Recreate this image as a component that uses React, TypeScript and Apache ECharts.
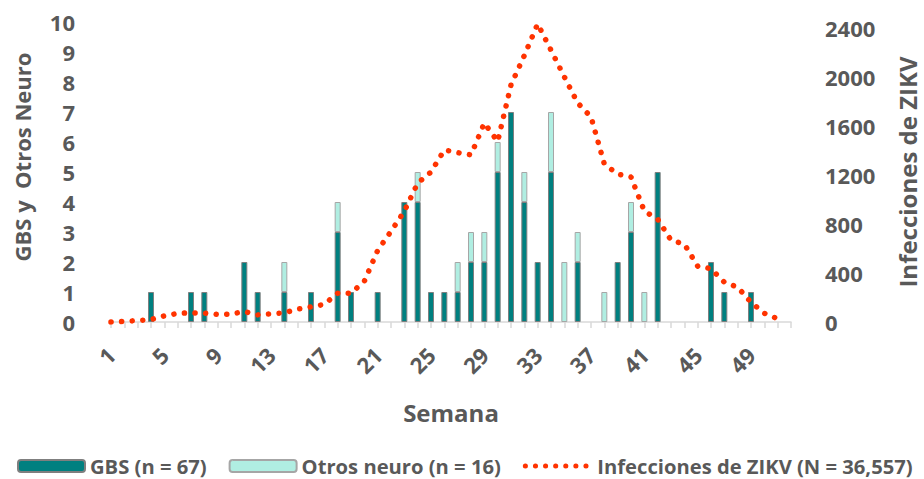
import React, { useEffect, useRef } from "react";
import * as echarts from "echarts";

const weeks: string[] = Array.from({ length: 52 }, (_, i) => String(i + 1));

// GBS cases per week (weeks 1..52)
const gbs: number[] = [
  0, 0, 0, 1, 0, 0, 1, 1, 0, 0, 2, 1, 0, 1, 0, 1, 0, 3, 1, 0,
  1, 0, 4, 4, 1, 1, 1, 2, 2, 5, 7, 4, 2, 5, 0, 2, 0, 0, 2, 3,
  0, 5, 0, 0, 0, 2, 1, 0, 1, 0, 0, 0,
];

// Other neurological cases per week
const otros: number[] = [
  0, 0, 0, 0, 0, 0, 0, 0, 0, 0, 0, 0, 0, 1, 0, 0, 0, 1, 0, 0,
  0, 0, 0, 1, 0, 0, 1, 1, 1, 1, 0, 1, 0, 2, 2, 1, 0, 1, 0, 1,
  1, 0, 0, 0, 0, 0, 0, 0, 0, 0, 0, 0,
];

// ZIKV infections per week
const zikv: (number | string)[] = [
  0, 5, 12, 20, 50, 70, 75, 72, 62, 65, 85, 58, 67, 75, 106, 123, 144, 235, 235, 333,
  585, 740, 905, 1134, 1225, 1405, 1383, 1365, 1625, 1474, 1936, 2177, 2435, 2220, 2002, 1789,
  1675, 1290, 1208, 1184, 906, 840, 668, 636, 456, 435, 325, 284, 161, 71, 26, "-",
];

const FONT = "Open Sans";
const GREY = "#595959";

export default function App() {
  const ref = useRef<HTMLDivElement>(null);

  useEffect(() => {
    if (!ref.current) return;
    const chart = echarts.init(ref.current, undefined, { renderer: "svg" });
    chart.setOption({
      animation: false,
      textStyle: { fontFamily: FONT },
      grid: { left: 111, right: 133, top: 22, bottom: 157, containLabel: false },
      legend: {
        left: 12,
        top: 451,
        width: 912,
        padding: [5, 0, 5, 5],
        itemWidth: 67,
        itemHeight: 12,
        itemGap: 22,
        textStyle: { fontFamily: FONT, fontWeight: "bold", fontSize: 20.2, color: GREY },
        data: [
          "GBS (n = 67)",
          "Otros neuro (n = 16)",
          {
            name: "Infecciones de ZIKV (N = 36,557)",
            itemStyle: { opacity: 0 },
            lineStyle: { color: "#ff3300", width: 5, type: [0.1, 10], cap: "round" },
          },
        ],
      },
      xAxis: {
        type: "category",
        data: weeks,
        boundaryGap: false,
        name: "Semana",
        nameLocation: "middle",
        nameGap: 78,
        nameTextStyle: { fontFamily: FONT, fontWeight: "bold", fontSize: 24, color: GREY },
        axisLine: { lineStyle: { color: "#d9d9d9", width: 1.5 } },
        axisTick: { show: true, interval: 0, length: 6, lineStyle: { color: "#d9d9d9", width: 1.5 } },
        axisLabel: {
          interval: 3,
          rotate: 45,
          margin: 29,
          fontFamily: FONT,
          fontWeight: "bold",
          fontSize: 22,
          color: GREY,
        },
        splitLine: { show: false },
      },
      yAxis: [
        {
          type: "value",
          min: 0,
          max: 10,
          interval: 1,
          axisLine: { show: false },
          axisTick: { show: false },
          splitLine: { show: false },
          axisLabel: { margin: 36, fontFamily: FONT, fontWeight: "bold", fontSize: 22, color: GREY },
        },
        {
          type: "value",
          min: 0,
          max: 2450,
          interval: 400,
          position: "right",
          axisLine: { show: false },
          axisTick: { show: false },
          splitLine: { show: false },
          axisLabel: {
            margin: 34,
            showMaxLabel: false,
            fontFamily: FONT,
            fontWeight: "bold",
            fontSize: 22,
            color: GREY,
            formatter: (v: number) => (v % 400 === 0 ? String(v) : ""),
          },
        },
      ],
      graphic: [
        {
          type: "text",
          x: 22,
          y: 157,
          rotation: Math.PI / 2,
          style: {
            text: "GBS y  Otros Neuro",
            fontFamily: FONT,
            fontWeight: "bold",
            fontSize: 22,
            fill: GREY,
            align: "center",
            verticalAlign: "middle",
          },
        },
        {
          type: "text",
          x: 907,
          y: 172,
          rotation: Math.PI / 2,
          style: {
            text: "Infecciones de ZIKV",
            fontFamily: FONT,
            fontWeight: "bold",
            fontSize: 24,
            fill: GREY,
            align: "center",
            verticalAlign: "middle",
          },
        },
      ],
      series: [
        {
          name: "GBS (n = 67)",
          type: "bar",
          stack: "neuro",
          yAxisIndex: 0,
          barWidth: 6,
          data: gbs.map((v) => (v === 0 ? "-" : v)),
          itemStyle: { color: "#008080", borderColor: "#7f7f7f", borderWidth: 1 },
        },
        {
          name: "Otros neuro (n = 16)",
          type: "bar",
          stack: "neuro",
          yAxisIndex: 0,
          barWidth: 6,
          data: otros.map((v) => (v === 0 ? "-" : v)),
          itemStyle: { color: "#b0eee2", borderColor: "#a6a6a6", borderWidth: 1 },
        },
        {
          name: "Infecciones de ZIKV (N = 36,557)",
          type: "line",
          yAxisIndex: 1,
          data: zikv,
          symbol: "none",
          z: 5,
          itemStyle: { color: "#ff3300" },
          lineStyle: { color: "#ff3300", width: 5.5, type: [0.1, 10.5], cap: "round" },
        },
      ],
    });
    return () => chart.dispose();
  }, []);

  return (
    <div
      ref={ref}
      style={{ position: "fixed", left: 0, top: 0, width: 924, height: 479, background: "#fff" }}
    />
  );
}
